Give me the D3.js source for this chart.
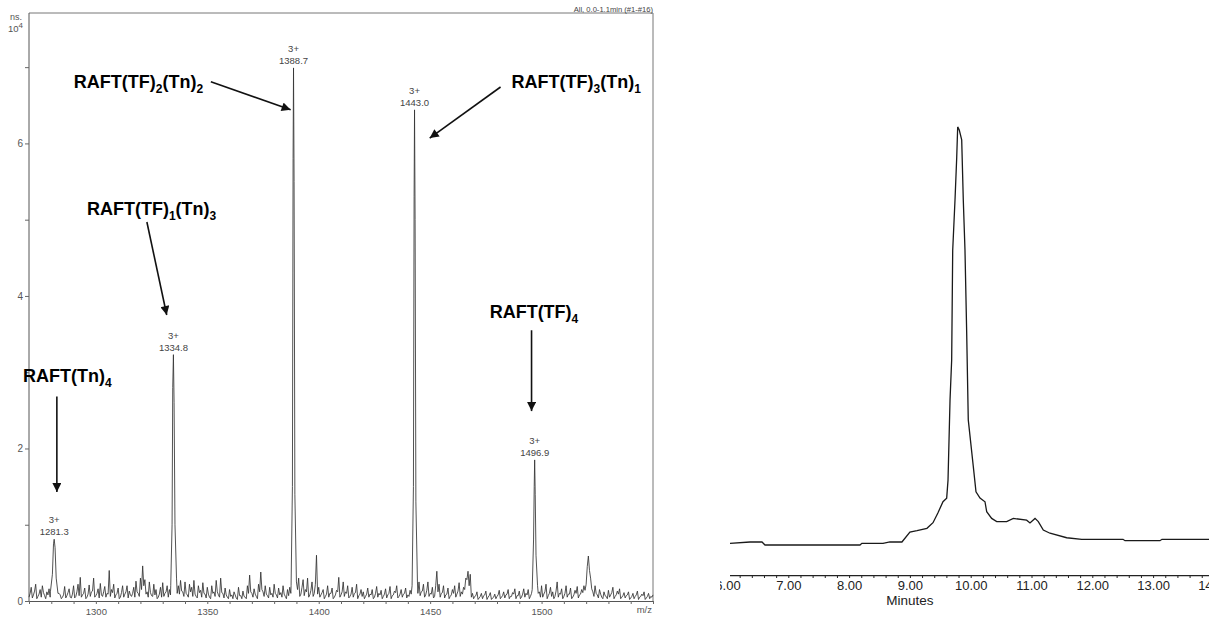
<!DOCTYPE html>
<html><head><meta charset="utf-8">
<script src="https://cdn.jsdelivr.net/npm/d3@7"></script>
<style>
body{margin:0;background:#fff}
svg{display:block;font-family:Arial,"Liberation Sans",sans-serif}
</style></head>
<body><svg id="c" width="1209" height="619"></svg>
<script>
// ---------- Left panel: ESI mass spectrum (intensity x10^4) ----------
const mzDomain = [1270, 1550];
const intensityDomain = [0, 7.71];
const noiseStartMz = 1270; // one value per m/z unit (1270, 1271, ...)
const noise = [
0.05,0.18,0.08,0.22,0.06,0.15,0.20,0.07,0.12,0.16,
0.10,0.12,0.14,0.14,0.08,0.05,0.19,0.07,0.16,0.04,
0.20,0.06,0.22,0.31,0.08,0.17,0.05,0.21,0.12,0.30,
0.07,0.16,0.23,0.06,0.19,0.10,0.40,0.15,0.22,0.08,
0.17,0.05,0.20,0.09,0.20,0.13,0.06,0.18,0.26,0.10,
0.30,0.46,0.28,0.12,0.25,0.07,0.22,0.15,0.05,0.18,
0.24,0.10,0.20,0.15,0.12,0.12,0.12,0.20,0.27,0.12,
0.25,0.08,0.22,0.18,0.27,0.06,0.20,0.14,0.24,0.09,
0.18,0.05,0.20,0.12,0.27,0.08,0.30,0.10,0.17,0.05,
0.15,0.08,0.12,0.04,0.18,0.07,0.13,0.05,0.20,0.34,
0.10,0.16,0.06,0.22,0.38,0.12,0.20,0.07,0.18,0.10,
0.22,0.08,0.17,0.11,0.20,0.06,0.15,0.18,0.12,0.12,
0.12,0.30,0.09,0.28,0.15,0.30,0.08,0.25,0.10,0.60,
0.18,0.08,0.15,0.06,0.20,0.10,0.17,0.05,0.14,0.31,
0.08,0.25,0.12,0.20,0.06,0.18,0.10,0.22,0.07,0.15,
0.12,0.06,0.17,0.09,0.15,0.05,0.19,0.10,0.14,0.06,
0.16,0.08,0.19,0.07,0.13,0.20,0.06,0.15,0.09,0.17,
0.08,0.14,0.20,0.12,0.12,0.25,0.12,0.22,0.08,0.25,
0.10,0.18,0.06,0.39,0.22,0.10,0.20,0.08,0.17,0.06,
0.15,0.20,0.09,0.24,0.12,0.18,0.30,0.39,0.35,0.10,
0.06,0.12,0.04,0.10,0.07,0.13,0.05,0.11,0.04,0.09,
0.06,0.14,0.05,0.12,0.08,0.15,0.06,0.11,0.16,0.07,
0.13,0.05,0.16,0.10,0.15,0.06,0.12,0.12,0.12,0.12,
0.20,0.09,0.22,0.07,0.18,0.12,0.06,0.25,0.10,0.16,
0.06,0.20,0.09,0.17,0.05,0.14,0.19,0.08,0.15,0.20,
0.22,0.59,0.30,0.12,0.20,0.08,0.15,0.05,0.12,0.06,
0.14,0.08,0.18,0.06,0.13,0.16,0.05,0.11,0.07,0.12,
0.04,0.10,0.06,0.13,0.05,0.09,0.12,0.04,0.10,0.06,
0.08];
const noiseHalfStartMz = 1270.5; // values at half-unit m/z (1270.5, 1271.5, ...)
const noiseHalf = [
0.10,0.04,0.13,0.03,0.09,0.05,0.11,0.03,0.08,0.05,
0.06,0.09,0.05,0.10,0.03,0.08,0.04,0.11,0.05,0.09,
0.04,0.12,0.07,0.05,0.10,0.03,0.09,0.06,0.13,0.05,
0.10,0.04,0.08,0.12,0.05,0.09,0.06,0.11,0.04,0.10,
0.03,0.11,0.05,0.12,0.04,0.08,0.10,0.05,0.12,0.06,
0.15,0.20,0.09,0.05,0.11,0.06,0.08,0.03,0.09,0.05,
0.06,0.12,0.05,0.08,0.10,0.10,0.10,0.09,0.13,0.06,
0.10,0.05,0.12,0.06,0.09,0.04,0.11,0.05,0.10,0.04,
0.09,0.03,0.10,0.06,0.12,0.05,0.11,0.04,0.08,0.03,
0.06,0.03,0.08,0.02,0.07,0.03,0.06,0.03,0.10,0.12,
0.05,0.09,0.03,0.12,0.15,0.06,0.09,0.04,0.08,0.05,
0.10,0.04,0.08,0.05,0.09,0.03,0.07,0.10,0.10,0.10,
0.15,0.06,0.18,0.07,0.12,0.05,0.14,0.06,0.22,0.09,
0.05,0.11,0.03,0.09,0.05,0.10,0.03,0.08,0.12,0.05,
0.12,0.06,0.10,0.04,0.09,0.05,0.11,0.03,0.09,0.06,
0.03,0.09,0.05,0.08,0.03,0.10,0.05,0.08,0.03,0.09,
0.04,0.10,0.03,0.08,0.11,0.04,0.09,0.05,0.10,0.04,
0.06,0.09,0.10,0.10,0.10,0.07,0.13,0.05,0.14,0.06,
0.09,0.04,0.20,0.12,0.05,0.11,0.04,0.09,0.03,0.08,
0.10,0.05,0.13,0.06,0.09,0.15,0.28,0.20,0.05,0.03,
0.07,0.02,0.06,0.03,0.08,0.02,0.07,0.02,0.05,0.03,
0.08,0.03,0.07,0.04,0.09,0.03,0.06,0.09,0.03,0.07,
0.03,0.09,0.05,0.08,0.03,0.10,0.10,0.10,0.10,0.05,
0.05,0.12,0.03,0.10,0.06,0.03,0.13,0.05,0.09,0.03,
0.10,0.05,0.09,0.03,0.08,0.10,0.04,0.09,0.11,0.14,
0.45,0.40,0.16,0.06,0.10,0.04,0.09,0.03,0.07,0.03,
0.05,0.11,0.03,0.08,0.09,0.03,0.07,0.04,0.08,0.02,
0.06,0.03,0.08,0.02,0.06,0.07,0.02,0.06,0.03,0.05];

const peakMz = [1281.3, 1334.8, 1388.7, 1443.0, 1496.9];
const peakHeight = [0.81, 3.23, 6.99, 6.44, 1.85];
const peakCharge = ["3+", "3+", "3+", "3+", "3+"];
const peakLabel = ["1281.3", "1334.8", "1388.7", "1443.0", "1496.9"];
const peakProfiles = [
  [[1279.6,0.12],[1280.5,0.35],[1281.0,0.75],[1281.3,0.81],[1281.7,0.70],[1282.2,0.30],[1283.0,0.10]],
  [[1333.6,0.20],[1334.2,1.00],[1334.5,2.80],[1334.8,3.23],[1335.1,2.60],[1335.5,1.00],[1336.2,0.30]],
  [[1387.6,0.20],[1388.2,1.50],[1388.5,5.80],[1388.7,6.99],[1388.95,5.50],[1389.3,1.40],[1390.0,0.25]],
  [[1441.9,0.20],[1442.5,1.50],[1442.8,5.30],[1443.0,6.44],[1443.25,5.00],[1443.6,1.30],[1444.3,0.25]],
  [[1495.8,0.15],[1496.4,0.80],[1496.7,1.50],[1496.9,1.85],[1497.15,1.40],[1497.5,0.60],[1498.2,0.20]]
];
const yTickValues = [0,1,2,3,4,5,6,7];
const yTickLabels = ["0","","2","","4","","6",""];
const xTickValues = [1270,1280,1290,1300,1310,1320,1330,1340,1350,1360,1370,1380,1390,1400,1410,1420,1430,1440,1450,1460,1470,1480,1490,1500,1510,1520,1530,1540,1550];
const xTickLabelled = [1300,1350,1400,1450,1500];

// annotation texts: [main, sub, main, sub]
const annoTexts = [
  ["RAFT(TF)","2","(Tn)","2"],
  ["RAFT(TF)","3","(Tn)","1"],
  ["RAFT(TF)","1","(Tn)","3"],
  ["RAFT(Tn)","4","",""],
  ["RAFT(TF)","4","",""]
];

// ---------- Right panel: HPLC chromatogram ----------
const chromTime = [6.04,6.37,6.567,6.617,8.179,8.21,8.557,8.672,8.869,9.0,9.117,9.28,9.38,9.46,9.544,9.605,9.627,9.66,9.687,9.704,9.742,9.77,9.786,9.812,9.852,9.878,9.906,9.934,9.96,10.043,10.087,10.153,10.235,10.263,10.345,10.428,10.592,10.701,10.92,10.975,11.058,11.112,11.194,11.304,11.579,11.826,12.505,12.538,13.113,13.146,13.93];
const chromSignal = [7.27,7.56,7.56,6.89,6.89,7.27,7.27,7.56,7.56,9.78,10.07,10.6,11.84,14.0,16.5,17.3,21.3,39.1,48,72.4,83.6,93.0,99.8,99.1,96.9,83.6,72.4,54,34.7,24.3,18.7,17.3,16.5,14.3,12.8,12.1,12.1,12.8,12.4,11.8,12.8,12.1,10.2,9.5,8.5,8.15,8.15,7.84,7.84,8.15,8.15];
const timeTicks = [6,7,8,9,10,11,12,13,14];
const timeMinorTicks = d3.range(6, 14.01, 0.2);

// ======================= drawing =======================
const svg = d3.select("#c");
const L = {left:29, right:653, top:13, bottom:601};
const x = d3.scaleLinear().domain(mzDomain).range([L.left, L.right]);
const y = d3.scaleLinear().domain(intensityDomain).range([L.bottom, L.top]);

// spectrum points
const spectrum = [];
const inPeak = m => peakProfiles.some(p => m >= p[0][0] && m <= p[p.length-1][0]);
noise.forEach((v,i)=>{ const m = noiseStartMz + i; if (!inPeak(m)) spectrum.push([m, v]); });
noiseHalf.forEach((v,i)=>{ const m = noiseHalfStartMz + i; if (!inPeak(m)) spectrum.push([m, v]); });
peakProfiles.forEach(p => p.forEach(d => spectrum.push(d)));
spectrum.sort((a,b)=>a[0]-b[0]);

const left = svg.append("g");
left.append("path")
  .attr("d", `M${L.left},${L.top}H${L.right}V${L.bottom}`)
  .attr("fill","none").attr("stroke","#777").attr("stroke-width",1);

const xAxis = d3.axisBottom(x).tickValues(xTickValues).tickSize(3).tickSizeOuter(0)
  .tickFormat(d => xTickLabelled.includes(d) ? String(d) : "");
const gx = left.append("g").attr("transform",`translate(0,${L.bottom})`).call(xAxis);
gx.select(".domain").attr("stroke","#555");
gx.selectAll(".tick line").attr("stroke","#666");
gx.selectAll("text").attr("fill","#555").attr("font-size",9.5).attr("dy","0.85em");

const yAxis = d3.axisLeft(y).tickValues(yTickValues).tickSize(4).tickSizeOuter(0)
  .tickFormat((d,i) => yTickLabels[i]);
const gy = left.append("g").attr("transform",`translate(${L.left},0)`).call(yAxis);
gy.select(".domain").attr("stroke","#555").attr("d",`M0,${L.top}V${L.bottom}`);
gy.selectAll(".tick line").attr("stroke","#666");
gy.selectAll("text").attr("fill","#555").attr("font-size",10).attr("x",-6);

left.append("text").attr("x",10).attr("y",20).attr("font-size",9).attr("fill","#555").text("ns.");
const ylab = left.append("text").attr("x",8).attr("y",32).attr("font-size",9.5).attr("fill","#555").text("10");
ylab.append("tspan").attr("dy",-4).attr("font-size",8).text("4");
left.append("text").attr("x",L.right).attr("y",L.top-1).attr("text-anchor","end")
  .attr("font-size",7.6).attr("fill","#444").text("All, 0.0-1.1min (#1-#16)");
left.append("text").attr("x",L.right-1).attr("y",613).attr("text-anchor","end")
  .attr("font-size",9.5).attr("fill","#555").text("m/z");

left.append("path").datum(spectrum)
  .attr("d", d3.line().x(d=>x(d[0])).y(d=>y(d[1])))
  .attr("fill","none").attr("stroke","#333").attr("stroke-width",0.85).attr("stroke-linejoin","round");

peakMz.forEach((m,i)=>{
  const px = x(m), py = y(peakHeight[i]);
  left.append("text").attr("x",px).attr("y",py-16).attr("text-anchor","middle")
    .attr("font-size",9.5).attr("fill","#444").text(peakCharge[i]);
  left.append("text").attr("x",px).attr("y",py-4).attr("text-anchor","middle")
    .attr("font-size",9.5).attr("fill","#444").text(peakLabel[i]);
});

svg.append("defs").append("marker").attr("id","ah")
  .attr("viewBox","0 0 10 10").attr("refX",10).attr("refY",5)
  .attr("markerWidth",11).attr("markerHeight",9).attr("markerUnits","userSpaceOnUse")
  .attr("orient","auto")
  .append("path").attr("d","M0,0L10,5L0,10Z").attr("fill","#111");

const annoLayout = [
  {tx:1290.1, ty:6.73, from:[1351.6,6.81], to:[1387.4,6.44]},
  {tx:1486.5, ty:6.73, from:[1481.6,6.74], to:[1449.8,6.07]},
  {tx:1296.0, ty:5.06, from:[1322.9,4.97], to:[1331.8,3.75]},
  {tx:1267.3, ty:2.87, from:[1282.5,2.68], to:[1282.5,1.43]},
  {tx:1476.7, ty:3.71, from:[1495.5,3.55], to:[1495.5,2.49]}
];
annoTexts.forEach((t,i)=>{
  const a = annoLayout[i];
  const tx = svg.append("text").attr("x",x(a.tx)).attr("y",y(a.ty))
    .attr("font-size",18).attr("font-weight","bold").attr("fill","#000");
  tx.append("tspan").text(t[0]);
  tx.append("tspan").attr("dy",5).attr("font-size",12).text(t[1]);
  if (t[2]) {
    tx.append("tspan").attr("dy",-5).text(t[2]);
    tx.append("tspan").attr("dy",5).attr("font-size",12).text(t[3]);
  }
  svg.append("line")
    .attr("x1",x(a.from[0])).attr("y1",y(a.from[1]))
    .attr("x2",x(a.to[0])).attr("y2",y(a.to[1]))
    .attr("stroke","#111").attr("stroke-width",1.6).attr("marker-end","url(#ah)");
});

// ---------- right panel ----------
const R = {clipLeft:720, axisLeft:730, right:1209, axisY:575};
const xr = d3.scaleLinear().domain([6,14]).range([727.5,1213.9]);
const yr = d3.scaleLinear().domain([0,100]).range([576,126]);
svg.append("clipPath").attr("id","rc").append("rect")
  .attr("x",R.clipLeft).attr("y",0).attr("width",R.right-R.clipLeft).attr("height",619);
svg.append("clipPath").attr("id","rc2").append("rect")
  .attr("x",R.axisLeft).attr("y",0).attr("width",R.right-R.axisLeft).attr("height",619);
const right = svg.append("g").attr("clip-path","url(#rc)");

right.append("path").datum(chromTime.map((t,i)=>[t,chromSignal[i]]))
  .attr("clip-path","url(#rc2)")
  .attr("d", d3.line().x(d=>xr(d[0])).y(d=>yr(d[1])))
  .attr("fill","none").attr("stroke","#1a1a1a").attr("stroke-width",1.3);

const axMinor = d3.axisBottom(xr).tickValues(timeMinorTicks).tickSize(3).tickFormat("").tickSizeOuter(0);
const gm = right.append("g").attr("clip-path","url(#rc2)").attr("transform",`translate(0,${R.axisY})`).call(axMinor);
gm.select(".domain").attr("stroke","#222").attr("stroke-width",1.3);
gm.selectAll(".tick line").attr("stroke","#222");
const axMajor = d3.axisBottom(xr).tickValues(timeTicks).tickSize(5).tickSizeOuter(0)
  .tickFormat(d3.format(".2f"));
const gM = right.append("g").attr("transform",`translate(0,${R.axisY})`).call(axMajor);
gM.select(".domain").remove();
gM.selectAll(".tick line").attr("stroke","#222").attr("clip-path","url(#rc2)");
gM.selectAll("text").attr("font-size",13).attr("fill","#222").attr("y",6).attr("dy","0.71em");
right.append("text").attr("x",xr(9)).attr("y",605).attr("text-anchor","middle")
  .attr("font-size",13.5).attr("fill","#222").text("Minutes");
</script></body></html>
